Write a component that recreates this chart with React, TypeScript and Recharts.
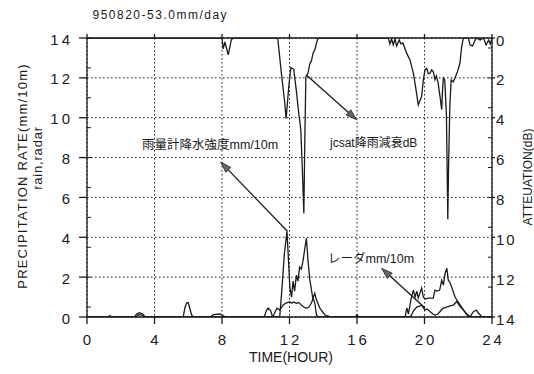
import React from 'react';
import { LineChart, Line, XAxis, YAxis, CartesianGrid, ReferenceLine } from 'recharts';

// 950820 rain event: gauge / radar precipitation (mm/10m) and jcsat attenuation (dB)
const timeTicks = [0, 4, 8, 12, 16, 20, 24];
const rateTicks = [0, 2, 4, 6, 8, 10, 12, 14];
const attenTicks = [0, 2, 4, 6, 8, 10, 12, 14];
const minorTicks = Array.from({ length: 29 }, (_, i) => i * 0.5);

const gaugeTime = [
  0, 1.2, 1.35, 1.5, 2.8, 2.95, 3.1, 3.3, 3.45, 5.7, 5.8, 5.9, 6.0, 6.1, 6.2, 6.3, 7.3, 7.5, 7.9, 8.1, 8.3,
  10.5, 10.62, 10.73, 10.88, 11.0, 11.42, 11.55, 11.7, 11.85, 11.93, 12.02, 12.12, 12.21, 12.3, 12.41, 12.5,
  12.6, 12.7, 12.8, 12.9, 13.0, 13.1, 13.2, 13.37, 13.5, 13.6, 13.7, 15.9, 16.0, 16.1, 18.85, 18.95, 19.05,
  19.2, 19.34, 19.44, 19.54, 19.63, 19.73, 19.83, 19.93, 20.05, 20.23, 20.4, 20.52, 20.62, 20.75, 20.9, 21.02,
  21.12, 21.22, 21.32, 21.41, 21.5, 21.61, 21.81, 22.0, 22.2, 22.4, 22.6, 24,
];
const gaugeRate = [
  0, 0, 0.06, 0, 0, 0.15, 0.22, 0.15, 0, 0, 0.45, 0.7, 0.72, 0.4, 0.1, 0, 0, 0.12, 0.15, 0.05, 0,
  0, 0.3, 0.45, 0.32, 0, 0, 1.4, 3.2, 4.3, 3.0, 1.5, 1.0, 1.8, 1.3, 2.1, 1.8,
  2.5, 2.4, 2.8, 3.4, 3.95, 2.8, 1.9, 1.0, 0.7, 0.1, 0, 0, 0.12, 0, 0, 0.45, 0.15,
  0.9, 1.35, 1.0, 1.3, 0.95, 1.2, 1.45, 1.0, 0.9, 0.95, 0.95, 0.95, 1.35, 1.3, 1.35, 1.85,
  1.6, 2.2, 2.45, 1.85, 1.75, 1.5, 1.0, 0.75, 0.5, 0.25, 0, 0,
];

const radarTime = [
  0, 2.9, 3.05, 3.3, 3.4, 11.0, 11.12, 11.25, 11.4, 11.5, 11.62, 11.8, 12.02, 12.12, 12.25, 12.41, 12.55,
  12.7, 12.85, 13.0, 13.15, 13.3, 13.42, 13.5, 13.58, 13.8, 14.1, 14.4, 14.6, 19.1, 19.2, 19.34, 19.54, 19.7,
  19.83, 19.95, 20.03, 20.15, 20.33, 20.5, 20.62, 20.8, 21.0, 21.12, 21.3, 21.41, 21.6, 21.71, 21.91, 22.05,
  22.3, 22.5, 22.7, 22.9, 23.06, 23.2, 23.4, 24,
];
const radarRate = [
  0, 0, 0.12, 0.1, 0, 0, 0.2, 0.44, 0.36, 0.45, 0.6, 0.7, 0.77, 0.69, 0.75, 0.69, 0.72,
  0.6, 0.5, 0.44, 0.5, 0.7, 1.0, 1.19, 0.9, 0.44, 0.1, 0.02, 0, 0, 0.05, 0.3, 0.5, 0.55,
  0.6, 0.45, 0.35, 0.4, 0.27, 0.15, 0.1, 0.15, 0.35, 0.45, 0.5, 0.52, 0.58, 0.6, 0.78, 0.6,
  0.35, 0.15, 0.02, 0.27, 0.35, 0.2, 0, 0,
];

const attenTime = [
  0, 8.0, 8.07, 8.17, 8.37, 8.55, 8.65, 11.3, 11.52, 11.72, 11.8, 11.95, 12.08, 12.25, 12.4, 12.55, 12.67,
  12.77, 12.85, 12.91, 12.97, 13.1, 13.2, 13.3, 13.4, 13.5, 13.6, 13.7, 17.85, 17.95, 18.05, 18.15, 18.25,
  18.35, 18.5, 18.6, 18.72, 18.94, 19.14, 19.34, 19.5, 19.63, 19.75, 19.83, 19.93, 20.03, 20.13, 20.23,
  20.33, 20.42, 20.52, 20.62, 20.7, 20.8, 20.92, 21.02, 21.07, 21.12, 21.2, 21.3, 21.34, 21.38, 21.43,
  21.5, 21.58, 21.7, 21.81, 21.95, 22.1, 22.2, 22.3, 22.6, 22.7, 22.85, 23.0, 23.1, 23.3, 23.5, 23.65,
  23.8, 23.9, 24,
];
const attenDb = [
  0, 0, 0.55, 0.2, 0.85, 0.1, 0, 0, 1.76, 3.26, 4.05, 2.5, 1.48, 1.56, 2.6, 3.8, 4.6,
  6.8, 8.8, 5.0, 1.94, 1.76, 1.3, 1.15, 0.75, 0.6, 0.25, 0, 0, 0.3, 0.05, 0.35, 0.05,
  0.4, 0.1, 0.3, 0.25, 0.76, 1.1, 1.76, 2.6, 3.36, 3.1, 2.94, 2.1, 1.6, 1.52, 1.8,
  1.76, 1.6, 1.69, 2.1, 1.9, 2.2, 2.94, 3.6, 2.6, 2.0, 2.1, 3.9, 6.4, 9.1, 6.3,
  3.45, 2.1, 2.2, 2.0, 1.7, 1.27, 0.44, 0, 0, 0.35, 0.4, 0.1, 0, 0.1, 0, 0.35,
  0.1, 0.3, 0,
];

const toPoints = (ts: number[], vs: number[]) => ts.map((t, i) => ({ t, v: vs[i] }));

const gaugeData = toPoints(gaugeTime, gaugeRate);
const radarData = toPoints(radarTime, radarRate);
const attenData = toPoints(attenTime, attenDb);

const FONT = '"Liberation Sans", Arial, sans-serif';
const CJK = '"Liberation Sans", "Noto Sans CJK JP", sans-serif';
const INK = '#1a1a1a';

const W = 534;
const H = 374;

const noLabel = () => <g />;

const XTick = (props: any) => {
  const { x, y, payload } = props;
  return (
    <text x={x} y={y + 13} dx={1.5} textAnchor="middle" dominantBaseline="central"
      fontFamily={FONT} fontSize={15} letterSpacing={3} fill={INK}>
      {payload.value}
    </text>
  );
};

const LeftTick = (props: any) => {
  const { x, y, payload } = props;
  return (
    <text x={x} y={y + 1} textAnchor="end" dominantBaseline="central"
      fontFamily={FONT} fontSize={15} letterSpacing={3} fill={INK}>
      {payload.value}
    </text>
  );
};

const RightTick = (props: any) => {
  const { x, y, payload } = props;
  return (
    <text x={x} y={y + 2} textAnchor="start" dominantBaseline="central"
      fontFamily={FONT} fontSize={15} letterSpacing={2} fill={INK}>
      {payload.value}
    </text>
  );
};

// line with a filled arrowhead at its second end point
const Arrow = (props: any) => {
  const { x1, y1, x2, y2 } = props;
  const a = Math.atan2(y2 - y1, x2 - x1);
  const len = 11;
  const half = 3.5;
  const bx = x2 - len * Math.cos(a);
  const by = y2 - len * Math.sin(a);
  const px = -Math.sin(a) * half;
  const py = Math.cos(a) * half;
  return (
    <g>
      <line x1={x1} y1={y1} x2={bx} y2={by} stroke={INK} strokeWidth={1.3} />
      <polygon points={`${x2},${y2} ${bx + px},${by + py} ${bx - px},${by - py}`}
        fill="#666" stroke={INK} strokeWidth={0.8} />
    </g>
  );
};

export default function App() {
  return (
    <div style={{ position: 'absolute', left: 0, top: 0, width: W, height: H, background: '#fff' }}>
      <LineChart width={W} height={H} margin={{ top: 37, right: 0, bottom: 17, left: 0 }}>
        <CartesianGrid xAxisId="x" yAxisId="left" stroke={INK} strokeDasharray="1.5 2.5" strokeWidth={1} />
        <XAxis xAxisId="x" dataKey="t" type="number" domain={[0, 24]} ticks={timeTicks} allowDataOverflow
          height={40} tickSize={7} tickMargin={2} tick={XTick} stroke={INK} strokeWidth={1.3} />
        <XAxis xAxisId="top" orientation="top" dataKey="t" type="number" domain={[0, 24]} ticks={timeTicks}
          allowDataOverflow height={1} tickSize={4} tick={noLabel} stroke={INK} strokeWidth={1.3} />
        <YAxis yAxisId="left" type="number" domain={[0, 14]} ticks={rateTicks} allowDataOverflow
          width={87} tickSize={8} tickMargin={6} tick={LeftTick} stroke={INK} strokeWidth={1.3} />
        <YAxis yAxisId="leftMinor" type="number" domain={[0, 14]} ticks={minorTicks} allowDataOverflow
          mirror width={1} tickSize={4} tick={noLabel} axisLine={false} stroke={INK} />
        <YAxis yAxisId="right" orientation="right" type="number" domain={[0, 14]} reversed ticks={attenTicks}
          allowDataOverflow width={42} tickSize={3} tickMargin={1} tick={RightTick} stroke={INK} strokeWidth={1.3} />
        <YAxis yAxisId="rightMinor" orientation="right" type="number" domain={[0, 14]} reversed ticks={minorTicks}
          allowDataOverflow mirror width={1} tickSize={4} tick={noLabel} axisLine={false} stroke={INK} />

        <Line xAxisId="x" yAxisId="left" data={radarData} dataKey="v" type="linear" stroke={INK}
          strokeWidth={1.3} dot={false} isAnimationActive={false} />
        <Line xAxisId="x" yAxisId="left" data={gaugeData} dataKey="v" type="linear" stroke={INK}
          strokeWidth={1.3} dot={false} isAnimationActive={false} />
        <Line xAxisId="x" yAxisId="right" data={attenData} dataKey="v" type="linear" stroke={INK}
          strokeWidth={1.3} dot={false} isAnimationActive={false} />

        <ReferenceLine xAxisId="x" yAxisId="left" segment={[{ x: 11.88, y: 4.3 }, { x: 7.92, y: 7.78 }]}
          shape={Arrow} ifOverflow="visible" />
        <ReferenceLine xAxisId="x" yAxisId="right" segment={[{ x: 13.0, y: 1.86 }, { x: 15.98, y: 4.1 }]}
          shape={Arrow} ifOverflow="visible" />
        <ReferenceLine xAxisId="x" yAxisId="left" segment={[{ x: 20.03, y: 0.45 }, { x: 17.46, y: 2.44 }]}
          shape={Arrow} ifOverflow="visible" />
      </LineChart>

      <svg width={W} height={H} style={{ position: 'absolute', left: 0, top: 0, pointerEvents: 'none' }}>
        <text x={92.5} y={15} dominantBaseline="central" fontFamily={FONT} fontSize={12} letterSpacing={1.5} fill={INK}>
          950820-53.0mm/day
        </text>
        <text x={142} y={145} dominantBaseline="central" fontFamily={CJK} fontSize={12.5} fill={INK}>
          雨量計降水強度mm/10m
        </text>
        <text x={330} y={143} dominantBaseline="central" fontFamily={CJK} fontSize={12} fill={INK}>
          jcsat降雨減衰dB
        </text>
        <text x={328} y={259} dominantBaseline="central" fontFamily={CJK} fontSize={12.5} fill={INK}>
          レーダmm/10m
        </text>
        <text transform="translate(22.5,176) rotate(-90)" textAnchor="middle" dominantBaseline="central"
          fontFamily={FONT} fontSize={13} letterSpacing={1.2} fill={INK}>
          PRECIPITATION RATE(mm/10m)
        </text>
        <text transform="translate(37,158) rotate(-90)" textAnchor="middle" dominantBaseline="central"
          fontFamily={FONT} fontSize={13} letterSpacing={0.8} fill={INK}>
          rain,radar
        </text>
        <text transform="translate(528,177) rotate(-90)" textAnchor="middle" dominantBaseline="central"
          fontFamily={FONT} fontSize={12} fill={INK}>
          ATTEUATION(dB)
        </text>
        <text x={291} y={357} textAnchor="middle" dominantBaseline="central" fontFamily={FONT} fontSize={14} fill={INK}>
          TIME(HOUR)
        </text>
      </svg>
    </div>
  );
}
